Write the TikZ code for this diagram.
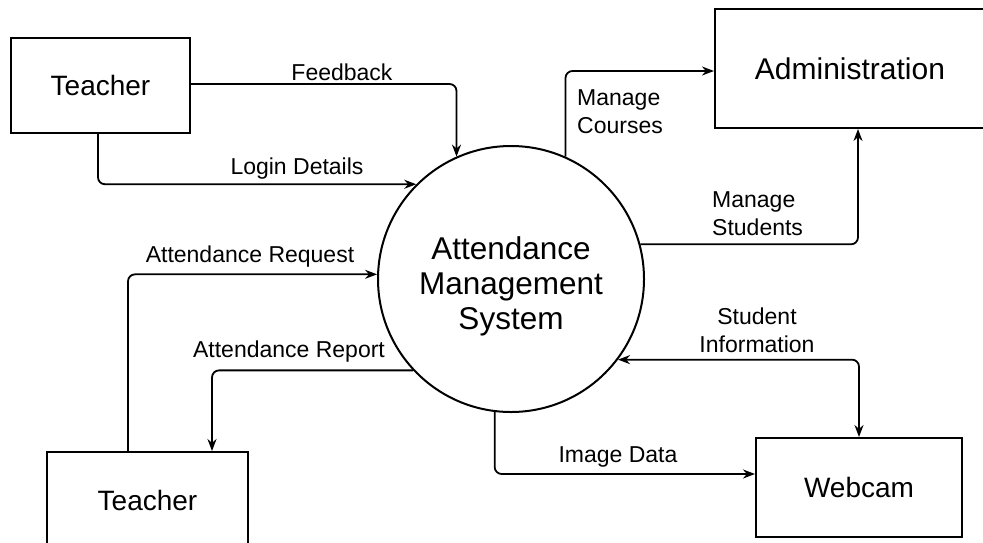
\documentclass[tikz,border=0pt]{standalone}
\usepackage{fontspec}
\setmainfont{Liberation Sans}
\usetikzlibrary{arrows.meta,calc}
\begin{document}
\begin{tikzpicture}[x=1pt,y=-1pt,
  box/.style={draw,line width=2pt,font=\fontsize{28}{32}\selectfont,inner sep=0pt},
  proc/.style={draw,circle,line width=2pt,minimum size=266pt,inner sep=0pt},
  proctext/.style={align=center,inner sep=0pt,font=\fontsize{31.5}{35}\selectfont},
  flow/.style={line width=1.8pt,rounded corners=7pt,-{Stealth[length=12pt,width=9pt]}},
  lbl/.style={font=\fontsize{23}{28}\selectfont,inner sep=0pt}]
\useasboundingbox[fill=white] (0,0) rectangle (983,542);
% nodes
\node[box,minimum width=179pt,minimum height=95pt] (t1) at (100.5,85.5) {Teacher};
\node[box,minimum width=270pt,minimum height=119pt,font=\fontsize{30}{34}\selectfont] (admin) at (850,68.5) {Administration};
\node[box,minimum width=206pt,minimum height=99pt] (cam) at (859,487.5) {Webcam};
\node[box,minimum width=201pt,minimum height=96pt] (t2) at (147.5,500) {Teacher};
\node[proc] (sys) at (511,279) {};
\node[proctext] (systext) at (511,286) {Attendance\\Management\\System};
% connectors
\draw[flow] ($(t1.east)+(0,-1.5)$) -| (sys.114);
\draw[flow] ($(t1.south)+(-2.5,0)$) |- (sys.135.6);
\draw[flow] (sys.66) |- ($(admin.west)+(0,2.5)$);
\draw[flow] (sys.15) -| ($(admin.south)+(8,0)$);
\draw[flow,{Stealth[length=12pt,width=9pt]}-{Stealth[length=12pt,width=9pt]}] (sys.-37.5) -| (cam.north);
\draw[flow] (sys.-97.3) |- ($(cam.west)+(0,-13.5)$);
\draw[flow] ($(t2.north)+(-19.5,0)$) |- (sys.178);
\draw[flow] (sys.223.8) -| ($(t2.north)+(64.5,0)$);
% labels
\node[lbl] (lfb) at (342,72) {Feedback};
\node[lbl] (lld) at (297,169) {Login Details};
\node[lbl] (lar) at (250,257) {Attendance Request};
\node[lbl] (lrp) at (289,352) {Attendance Report};
\node[lbl,anchor=west,align=left] (lmc) at (577,112) {Manage\\Courses};
\node[lbl,anchor=west,align=left] (lms) at (712,214) {Manage\\Students};
\node[lbl,align=center] (lsi) at (757,330) {Student\\Information};
\node[lbl] (lid) at (618,457) {Image Data};
\end{tikzpicture}
\end{document}
